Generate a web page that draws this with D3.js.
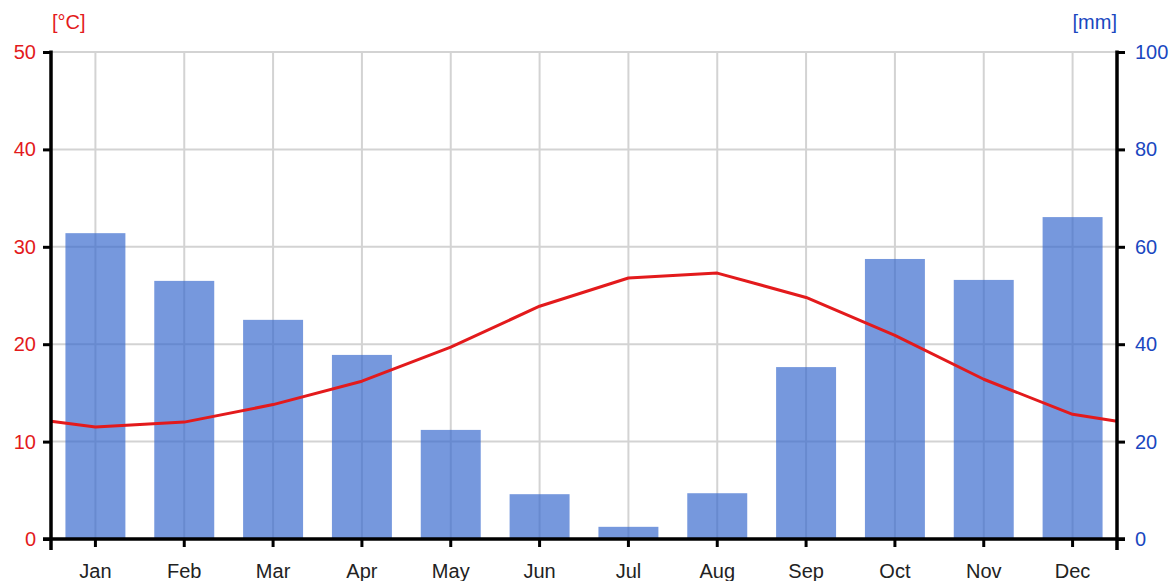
<!DOCTYPE html>
<html>
<head>
<meta charset="utf-8">
<script src="https://cdn.jsdelivr.net/npm/d3@7"></script>
<style>
  body { margin: 0; background: #fff; }
  svg { font-family: Arial, "Liberation Sans", sans-serif; }
</style>
</head>
<body>
<svg></svg>
<script>
let months = ['Jan', 'Feb', 'Mar', 'Apr', 'May', 'Jun', 'Jul', 'Aug', 'Sep', 'Oct', 'Nov', 'Dec']
let temperature = [11.5, 12.0, 13.8, 16.2, 19.7, 23.9, 26.8, 27.3, 24.8, 20.9, 16.4, 12.8]
let precipitation = [62.8, 53.0, 45.0, 37.8, 22.4, 9.2, 2.5, 9.4, 35.3, 57.5, 53.2, 66.1]
// line value at left and right plot edges
let tempEdges = [12.1, 12.1]
let tempTicks = [0, 10, 20, 30, 40, 50]
let precTicks = [0, 20, 40, 60, 80, 100]

let width = 1173
let height = 581
let plotLeft = 51
let plotRight = 1117
let plotTop = 52
let plotBottom = 539

let svg = d3.select('svg')
    .attr('width', width)
    .attr('height', height)

let xScale = d3.scaleBand()
    .domain(months)
    .range([plotLeft, plotRight])
    .paddingInner(0)

let xCenter = (m) => xScale(m) + xScale.bandwidth() / 2

let yTemp = d3.scaleLinear().domain([0, 50]).range([plotBottom, plotTop])
let yPrec = d3.scaleLinear().domain([0, 100]).range([plotBottom, plotTop])

// grid
let grid = svg.append('g').attr('stroke', '#d3d3d3').attr('stroke-width', 2)
grid.selectAll('.hg')
    .data(tempTicks.slice(1))
    .enter()
    .append('line')
    .attr('x1', plotLeft).attr('x2', plotRight)
    .attr('y1', (d) => yTemp(d)).attr('y2', (d) => yTemp(d))
grid.selectAll('.vg')
    .data(months)
    .enter()
    .append('line')
    .attr('x1', (d) => xCenter(d)).attr('x2', (d) => xCenter(d))
    .attr('y1', plotTop).attr('y2', plotBottom)

// bars
let barW = xScale.bandwidth() * 0.675
svg.selectAll('.bar')
    .data(months)
    .enter()
    .append('rect')
    .attr('x', (d) => xCenter(d) - barW / 2)
    .attr('width', barW)
    .attr('y', (d, i) => yPrec(precipitation[i]))
    .attr('height', (d, i) => plotBottom - yPrec(precipitation[i]))
    .attr('fill', '#3366cc')
    .attr('fill-opacity', 0.67)

// temperature line
let pts = [[plotLeft, tempEdges[0]]]
months.forEach((m, i) => pts.push([xCenter(m), temperature[i]]))
pts.push([plotRight, tempEdges[1]])
svg.append('path')
    .datum(pts)
    .attr('fill', 'none')
    .attr('stroke', '#e31a1c')
    .attr('stroke-width', 3)
    .attr('stroke-linejoin', 'round')
    .attr('d', d3.line().x((d) => d[0]).y((d) => yTemp(d[1])))

// axes
let yAxisL = d3.axisLeft(yTemp).tickValues(tempTicks).tickSize(8).tickPadding(7)
let yAxisR = d3.axisRight(yPrec).tickValues(precTicks).tickSize(8).tickPadding(10)

let gl = svg.append('g')
    .attr('transform', 'translate(' + plotLeft + ',0)')
    .call(yAxisL)
gl.select('.domain').remove()
gl.selectAll('.tick line').attr('stroke', '#000').attr('stroke-width', 3)
gl.selectAll('.tick text').attr('fill', '#e31a1c').style('font-size', '20px').attr('font-family', null)

let gr = svg.append('g')
    .attr('transform', 'translate(' + plotRight + ',0)')
    .call(yAxisR)
gr.select('.domain').remove()
gr.selectAll('.tick line').attr('stroke', '#000').attr('stroke-width', 3)
gr.selectAll('.tick text').attr('fill', '#1a47c0').style('font-size', '20px').attr('font-family', null)

let xAxis = d3.axisBottom(xScale).tickSize(8).tickPadding(17)
let gx = svg.append('g')
    .attr('transform', 'translate(0,' + plotBottom + ')')
    .call(xAxis)
gx.select('.domain').remove()
gx.selectAll('.tick line').attr('stroke', '#000').attr('stroke-width', 3)
gx.selectAll('.tick text').attr('fill', '#222').style('font-size', '20px').attr('font-family', null)

// axis lines
let frame = svg.append('g').attr('stroke', '#000').attr('stroke-width', 3.5).attr('fill', 'none')
frame.append('line').attr('x1', plotLeft).attr('x2', plotLeft).attr('y1', plotTop - 1.5).attr('y2', plotBottom + 11)
frame.append('line').attr('x1', plotRight).attr('x2', plotRight).attr('y1', plotTop - 1.5).attr('y2', plotBottom + 11)
frame.append('line').attr('x1', plotLeft - 8).attr('x2', plotRight + 8).attr('y1', plotBottom).attr('y2', plotBottom)

// unit labels
svg.append('text')
    .attr('x', plotLeft + 1).attr('y', 29)
    .attr('fill', '#e31a1c')
    .style('font-size', '20px')
    .text('[°C]')
svg.append('text')
    .attr('x', plotRight).attr('y', 29)
    .attr('text-anchor', 'end')
    .attr('fill', '#1a47c0')
    .style('font-size', '20px')
    .text('[mm]')
</script>
</body>
</html>
